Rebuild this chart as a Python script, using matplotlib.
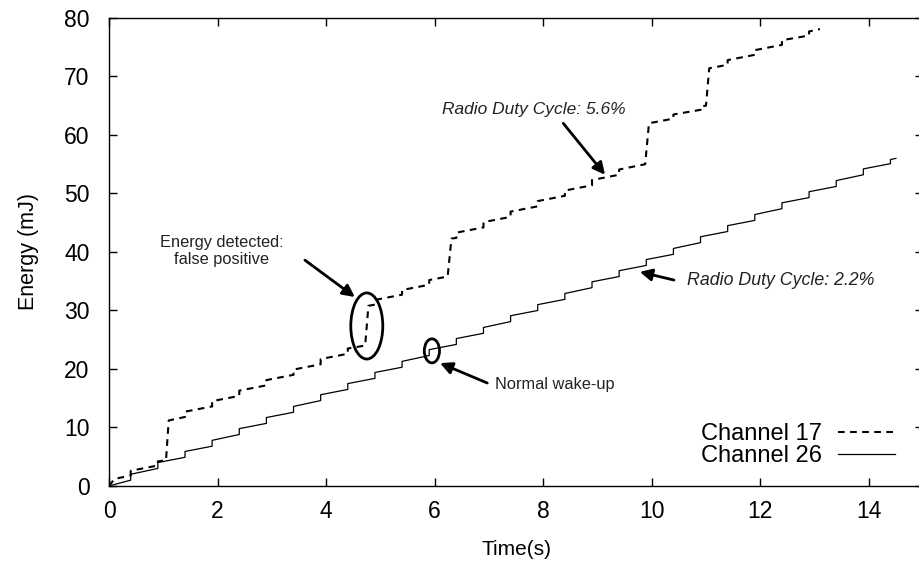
import matplotlib
matplotlib.use("Agg")
import matplotlib.pyplot as plt
from matplotlib.patches import Ellipse

plt.rcParams['font.family'] = ['Liberation Sans', 'DejaVu Sans']

# channel 17 (dashed): time / energy vertices
t17 = [0, 0.1, 0.4, 0.4, 0.9, 0.9, 1.05, 1.1,
       1.4, 1.4, 1.9, 1.9, 2.4, 2.4, 2.9, 2.9, 3.4, 3.4, 3.9, 3.9, 4.4, 4.4, 4.72, 4.78,
       4.9, 4.9, 5.4, 5.4, 5.9, 5.9, 6.24, 6.31,
       6.4, 6.4, 6.9, 6.9, 7.4, 7.4, 7.9, 7.9, 8.4, 8.4, 8.9, 8.9, 9.4, 9.4, 9.88, 9.95,
       10.4, 10.4, 10.9, 10.9, 11.0, 11.06,
       11.4, 11.4, 11.9, 11.9, 12.4, 12.4, 12.9, 12.9, 13.1]
e17 = [0, 1.2, 1.8, 2.6, 3.5, 4.2, 4.4, 11.2,
       11.8, 12.7, 13.6, 14.5, 15.4, 16.3, 17.2, 18.1, 19.0, 19.9, 20.8, 21.7, 22.6, 23.5, 24.0, 30.8,
       31.0, 31.8, 32.7, 33.5, 34.4, 35.2, 35.8, 42.3,
       42.4, 43.3, 44.2, 45.1, 46.0, 46.9, 47.8, 48.7, 49.6, 50.5, 51.4, 52.3, 53.2, 54.1, 55.0, 62.0,
       62.8, 63.5, 64.3, 64.9, 65.0, 71.4,
       72.0, 72.8, 73.7, 74.5, 75.4, 76.2, 77.0, 77.7, 78.1]

# channel 26 (solid): small regular wake-up steps
t26 = [0, 0.4, 0.4, 0.9, 0.9, 1.4, 1.4, 1.9, 1.9, 2.4, 2.4, 2.9, 2.9, 3.4, 3.4,
       3.9, 3.9, 4.4, 4.4, 4.9, 4.9, 5.4, 5.4, 5.9, 5.9, 6.4, 6.4, 6.9, 6.9,
       7.4, 7.4, 7.9, 7.9, 8.4, 8.4, 8.9, 8.9, 9.4, 9.4, 9.9, 9.9, 10.4, 10.4,
       10.9, 10.9, 11.4, 11.4, 11.9, 11.9, 12.4, 12.4, 12.9, 12.9, 13.4, 13.4,
       13.9, 13.9, 14.4, 14.4, 14.5]
e26 = [0, 1.0, 2.0, 3.0, 4.0, 4.9, 5.9, 6.8, 7.8, 8.8, 9.8, 10.7, 11.7, 12.6, 13.6,
       14.6, 15.6, 16.5, 17.5, 18.4, 19.4, 20.3, 21.3, 22.3, 23.3, 24.2, 25.2, 26.1, 27.1,
       28.1, 29.1, 30.0, 31.0, 31.9, 32.9, 33.9, 34.9, 35.8, 36.8, 37.7, 38.7, 39.6, 40.6,
       41.6, 42.6, 43.5, 44.5, 45.4, 46.4, 47.4, 48.4, 49.3, 50.3, 51.2, 52.2,
       53.2, 54.2, 55.1, 55.8, 56.0]

xticks = [0, 2, 4, 6, 8, 10, 12, 14]
yticks = [0, 10, 20, 30, 40, 50, 60, 70, 80]

fig = plt.figure(figsize=(9.2, 5.67), dpi=100)
ax = fig.add_axes([0.1185, 0.1429, 0.8848, 0.8254])

ax.plot(t17, e17, color='black', lw=1.5, linestyle=(0, (3.2, 2.6)), label='Channel 17')
ax.plot(t26, e26, color='black', lw=0.9, label='Channel 26')

ax.set_xlim(0, 15)
ax.set_ylim(0, 80)
ax.set_xticks(xticks)
ax.set_yticks(yticks)
ax.tick_params(direction='in', top=True, right=True, length=6, width=1, labelsize=16.5)
ax.tick_params(axis='y', pad=14)
ax.tick_params(axis='x', pad=10)
for s in ax.spines.values():
    s.set_linewidth(1)

ax.set_xlabel('Time(s)', fontsize=15, labelpad=12)
ax.set_ylabel('Energy (mJ)', fontsize=15.5, labelpad=18)

# ellipses around the wake-ups
ax.add_patch(Ellipse((4.75, 27.35), 0.59, 11.3, fill=False, lw=2, color='black'))
ax.add_patch(Ellipse((5.95, 23.1), 0.28, 4.1, fill=False, lw=2, color='black'))

arrow = dict(arrowstyle='-|>', color='black', lw=2, mutation_scale=18, shrinkA=0, shrinkB=0)
ax.annotate('', xy=(9.14, 53.2), xytext=(8.37, 62.0), arrowprops=arrow)
ax.annotate('', xy=(9.78, 36.6), xytext=(10.41, 35.2), arrowprops=arrow)
ax.annotate('', xy=(4.53, 32.3), xytext=(3.61, 38.6), arrowprops=arrow)
ax.annotate('', xy=(6.10, 21.0), xytext=(6.97, 17.6), arrowprops=arrow)

ax.text(7.82, 64.3, 'Radio Duty Cycle: 5.6%', style='italic', fontsize=12.5,
        ha='center', va='center', color='#222222')
ax.text(10.65, 35.2, 'Radio Duty Cycle: 2.2%', style='italic', fontsize=12.8,
        ha='left', va='center', color='#222222')
ax.text(2.07, 40.2, 'Energy detected:\nfalse positive', fontsize=11.8,
        ha='center', va='center', linespacing=1.15, color='#222222')
ax.text(7.11, 17.3, 'Normal wake-up', fontsize=11.8, ha='left', va='center', color='#222222')

ax.legend(loc='lower right', bbox_to_anchor=(0.9656, 0.040), frameon=False,
          markerfirst=False, fontsize=17, handlelength=2.4, handletextpad=0.7,
          labelspacing=0.0, borderpad=0, borderaxespad=0)

fig.savefig('out.png', dpi=100)
